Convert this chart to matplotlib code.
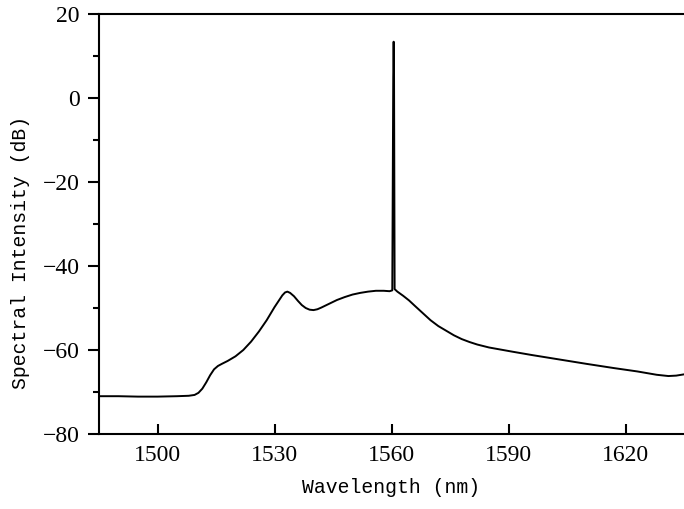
import numpy as np
import matplotlib.pyplot as plt
from matplotlib.ticker import MultipleLocator

# spectrum (nm, dB)
wavelength = [
    1485, 1490, 1495, 1500, 1505, 1508, 1509.5, 1510.5, 1511.5, 1512.5, 1513.5,
    1514.5, 1515.5, 1516.5, 1518, 1520, 1522, 1524, 1526, 1528, 1530, 1531,
    1532, 1532.7, 1533.3, 1534, 1535, 1536, 1537, 1538, 1539, 1540, 1541,
    1542, 1544, 1546, 1548, 1550, 1552, 1554, 1556, 1558, 1559.5, 1560.2,
    1560.45, 1560.55, 1560.65, 1560.8, 1561.5, 1563, 1564.5, 1566, 1568, 1570,
    1572, 1574, 1576, 1578, 1580, 1582, 1585, 1588, 1591, 1596, 1600, 1604,
    1610, 1617, 1623, 1628, 1631, 1633, 1635,
]
intensity = [
    -71.0, -71.0, -71.1, -71.1, -71.0, -70.9, -70.7, -70.2, -69.2, -67.7, -66.0,
    -64.6, -63.8, -63.3, -62.6, -61.5, -60.0, -58.0, -55.6, -52.9, -49.8, -48.4,
    -47.0, -46.3, -46.1, -46.4, -47.2, -48.3, -49.3, -50.0, -50.4, -50.5, -50.3,
    -49.9, -49.0, -48.1, -47.4, -46.8, -46.4, -46.1, -45.9, -45.9, -46.0, -45.8,
    5.0, 13.4, 5.0, -45.5, -46.1, -47.1, -48.2, -49.5, -51.2, -52.9,
    -54.3, -55.4, -56.5, -57.4, -58.1, -58.7, -59.4, -59.9, -60.4, -61.2, -61.8, -62.4,
    -63.3, -64.3, -65.1, -65.9, -66.2, -66.1, -65.8,
]

x_ticks = [1500, 1530, 1560, 1590, 1620]

label_font = "Liberation Mono"
tick_font = "Liberation Serif"

fig = plt.figure(figsize=(6.84, 5.09), dpi=100)
ax = fig.add_axes([99 / 684, 1 - 434 / 509, 1 - 99 / 684, 420 / 509])

ax.plot(wavelength, intensity, color="black", linewidth=1.4)

ax.set_xlim(1485, 1635)
ax.set_ylim(-80, 20)
ax.set_xticks(x_ticks)
ax.yaxis.set_major_locator(MultipleLocator(20))
ax.yaxis.set_minor_locator(MultipleLocator(10))

ax.tick_params(axis="x", which="major", direction="in", length=7, width=1.5, pad=8)
ax.tick_params(axis="y", which="major", direction="out", length=8, width=1.5, pad=6)
ax.tick_params(axis="y", which="minor", direction="out", length=4.5, width=1.5)

for lab in ax.get_xticklabels() + ax.get_yticklabels():
    lab.set_fontfamily(tick_font)
    lab.set_fontsize(17)

for side in ["left", "bottom", "top"]:
    ax.spines[side].set_linewidth(1.5)
ax.spines["right"].set_visible(False)

ax.set_xlabel("Wavelength (nm)", fontfamily=label_font, fontsize=14.2)
ax.set_ylabel("Spectral Intensity (dB)", fontfamily=label_font, fontsize=14.2)
ax.xaxis.set_label_coords(0.5, -0.105)
ax.yaxis.set_label_coords(-0.118, 0.433)

fig.savefig("out.png", dpi=100)
